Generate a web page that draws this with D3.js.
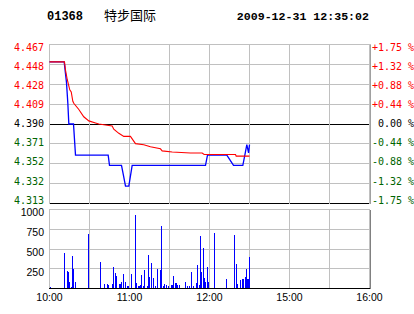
<!DOCTYPE html>
<html>
<head>
<meta charset="utf-8">
<script src="https://cdn.jsdelivr.net/npm/d3@7"></script>
<style>
  html, body { margin: 0; padding: 0; background: #fff; }
  svg { display: block; }
  text { white-space: pre; }
</style>
</head>
<body>
<div id="chart"></div>
<script>
// Header
const stockCode = "01368";
const stockName = "特步国际";
const stamp = "2009-12-31 12:35:02";

const prevClose = 4.39;
const maxPct = 0.0175;

// axis labels, bottom to top
const priceLabels = ["4.313", "4.332", "4.352", "4.371", "4.390", "4.409", "4.428", "4.448", "4.467"];
const pctLabels = ["-1.75 %", "-1.32 %", "-0.88 %", "-0.44 %", " 0.00 %", "+0.44 %", "+0.88 %", "+1.32 %", "+1.75 %"];

// trading minutes since 10:00 (12:30 joins 14:30)
const timeTicks = [0, 60, 120, 180, 240];
const timeLabels = ["10:00", "11:00", "12:00", "15:00", "16:00"];
const volTicks = [250, 500, 750, 1000];

// price line (minute, price)
const priceTimes = [0, 11, 12.75, 13.75, 14.5, 18, 19.5, 44, 45, 54, 55.5, 57, 59.5, 62, 117, 118.5, 133, 138, 145, 146.5, 148, 149.3, 150];
const priceValues = [4.45, 4.45, 4.43, 4.41, 4.39, 4.39, 4.36, 4.36, 4.35, 4.35, 4.34, 4.33, 4.33, 4.35, 4.35, 4.36, 4.36, 4.35, 4.35, 4.36, 4.37, 4.362, 4.37];

// average price line
const avgTimes = [0, 11.25, 12, 13.3, 15.2, 16.3, 17.5, 18.2, 22, 25.7, 29.5, 34.5, 37, 47, 48.2, 52, 55.7, 60.7, 64.5, 70.7, 75.7, 83.2, 84.5, 92, 105.7, 114.5, 116, 139.5, 140, 150];
const avgValues = [4.450, 4.450, 4.442, 4.433, 4.423, 4.421, 4.412, 4.410, 4.404, 4.397, 4.393, 4.391, 4.390, 4.388, 4.385, 4.381, 4.378, 4.378, 4.371, 4.370, 4.368, 4.366, 4.364, 4.363, 4.362, 4.362, 4.3605, 4.3605, 4.359, 4.359];

// volume bars
const volTimes = [0.75, 11.5, 13.75, 14.5, 15.25, 16.75, 17.5, 18.25, 19.75, 29.5, 38.5, 41.5, 43.75, 44.5, 47.5, 48.25, 49.75, 50.5, 52.75, 53.5, 54.25, 55.75, 57.25, 58.75, 59.5, 61.75, 64.75, 65.5, 67, 67.75, 68.5, 69.25, 70.75, 71.5, 73.75, 74.5, 75.25, 76.75, 78.25, 79.75, 81.25, 83.5, 84.25, 85.75, 86.5, 88, 89.5, 91.75, 92.5, 93.25, 94.75, 95.5, 96.25, 97.75, 102.25, 103.75, 105.25, 106.75, 108.25, 110.5, 111.25, 112.75, 113.5, 114.25, 115.75, 116.5, 117.25, 118.75, 119.5, 124, 133, 139, 140.5, 141.25, 143.5, 145, 145.75, 147.25, 148, 148.75, 149.5, 150];
const volValues = [25, 449, 220, 208, 80, 25, 407, 242, 80, 691, 335, 55, 55, 42, 55, 271, 195, 153, 55, 55, 80, 182, 80, 30, 30, 182, 928, 68, 30, 30, 42, 169, 30, 233, 30, 424, 144, 322, 127, 30, 246, 233, 792, 34, 55, 42, 30, 42, 42, 157, 68, 68, 42, 42, 80, 30, 30, 208, 30, 68, 297, 42, 665, 208, 513, 131, 80, 267, 80, 699, 114, 678, 309, 55, 102, 114, 114, 144, 246, 114, 119, 394];

const width = 414, height = 314;
const left = 49, right = 370;
const gridColor = "#c0c0c0";
const upColor = "#ff0000", downColor = "#006400";
const monoFont = "'DejaVu Sans Mono', monospace";
const sansFont = "'Liberation Sans', Arial, sans-serif";

const svg = d3.select("#chart").append("svg")
    .attr("width", width)
    .attr("height", height);

const x = d3.scaleLinear().domain([0, 240]).range([left + 0.5, right - 0.5]);
const y = d3.scaleLinear()
    .domain([prevClose * (1 - maxPct), prevClose * (1 + maxPct)])
    .range([203.5, 44.5]);
// label positions sit a little inside the panel
const yLabel = d3.scaleLinear().domain(y.domain()).range([200, 47.5]);
const yv = d3.scaleLinear().domain([0, 1000]).range([288.5, 209.5]);

const labelColor = i => i > 4 ? upColor : (i < 4 ? downColor : "#000");

// header
svg.append("text")
    .attr("x", 47).attr("y", 20)
    .style("font-family", "'Liberation Mono', monospace")
    .style("font-weight", "bold")
    .style("font-size", "12px")
    .text(stockCode);
svg.append("text")
    .attr("x", 104).attr("y", 20)
    .style("font-family", "'Noto Sans CJK SC', sans-serif")
    .style("font-size", "13px")
    .text(stockName);
svg.append("text")
    .attr("x", 369).attr("y", 20)
    .attr("text-anchor", "end")
    .style("font-family", "'Liberation Mono', monospace")
    .style("font-weight", "bold")
    .style("font-size", "11.6px")
    .text(stamp);

// price panel grid
const priceTicks = d3.range(-4, 5).map(k => prevClose * (1 + maxPct * k / 4));
const gPrice = svg.append("g").attr("shape-rendering", "crispEdges");

gPrice.selectAll("line.h")
    .data(priceTicks)
    .enter().append("line")
    .attr("x1", left).attr("x2", right + 1)
    .attr("y1", d => y(d)).attr("y2", d => y(d))
    .attr("stroke", (d, i) => (i === 0 || i === 4) ? "#000" : gridColor);

const vGrid = d3.range(0, 241, 30);
gPrice.selectAll("line.v")
    .data(vGrid)
    .enter().append("line")
    .attr("x1", d => x(d)).attr("x2", d => x(d))
    .attr("y1", y.range()[1]).attr("y2", y.range()[0])
    .attr("stroke", gridColor);
gPrice.append("line")
    .attr("x1", right + 0.5).attr("x2", right + 0.5)
    .attr("y1", y.range()[1]).attr("y2", y.range()[0])
    .attr("stroke", "#a0a0a0");

// left price labels
svg.append("g").selectAll("text")
    .data(priceTicks)
    .enter().append("text")
    .attr("x", 44)
    .attr("y", d => yLabel(d))
    .attr("dy", "0.36em")
    .attr("text-anchor", "end")
    .style("font-family", monoFont)
    .style("font-size", "10px")
    .attr("fill", (d, i) => labelColor(i))
    .text((d, i) => priceLabels[i]);

// right percentage labels
svg.append("g").selectAll("text")
    .data(priceTicks)
    .enter().append("text")
    .attr("x", 372)
    .attr("y", d => yLabel(d))
    .attr("dy", "0.36em")
    .style("font-family", monoFont)
    .style("font-size", "10px")
    .attr("fill", (d, i) => labelColor(i))
    .text((d, i) => pctLabels[i]);

// price line and average line
const priceData = priceTimes.map((t, i) => [t, priceValues[i]]);
const avgData = avgTimes.map((t, i) => [t, avgValues[i]]);
const line = d3.line().x(d => x(d[0])).y(d => y(d[1]));

svg.append("path")
    .datum(priceData)
    .attr("d", line)
    .attr("fill", "none")
    .attr("stroke", "#0000ff")
    .attr("stroke-width", 1.3);

svg.append("path")
    .datum(avgData)
    .attr("d", line)
    .attr("fill", "none")
    .attr("stroke", "#ff0000")
    .attr("stroke-width", 1.1);

// volume panel
const gVol = svg.append("g").attr("shape-rendering", "crispEdges");
gVol.selectAll("line.h")
    .data(volTicks)
    .enter().append("line")
    .attr("x1", left).attr("x2", right)
    .attr("y1", d => yv(d)).attr("y2", d => yv(d))
    .attr("stroke", gridColor);
gVol.selectAll("line.v")
    .data(vGrid)
    .enter().append("line")
    .attr("x1", d => x(d)).attr("x2", d => x(d))
    .attr("y1", yv(1000)).attr("y2", yv(0))
    .attr("stroke", gridColor);

gVol.selectAll("rect")
    .data(volTimes.map((t, i) => [t, volValues[i]]))
    .enter().append("rect")
    .attr("x", d => Math.floor(x(d[0])))
    .attr("y", d => yv(d[1]))
    .attr("width", 1)
    .attr("height", d => yv(0) - yv(d[1]))
    .attr("fill", "#0000ff");

gVol.append("line")
    .attr("x1", left).attr("x2", right + 1)
    .attr("y1", yv(0)).attr("y2", yv(0))
    .attr("stroke", "#000");
gVol.append("line")
    .attr("x1", right + 0.5).attr("x2", right + 0.5)
    .attr("y1", yv(1000)).attr("y2", yv(0))
    .attr("stroke", "#808080");

svg.append("g").selectAll("text")
    .data(volTicks)
    .enter().append("text")
    .attr("x", 44)
    .attr("y", d => yv(d) + 3)
    .attr("dy", "0.36em")
    .attr("text-anchor", "end")
    .style("font-family", sansFont)
    .style("font-size", "10.5px")
    .text(d => d);

// time labels
svg.append("g").selectAll("text")
    .data(timeTicks)
    .enter().append("text")
    .attr("x", d => x(d))
    .attr("y", 301)
    .attr("text-anchor", "middle")
    .style("font-family", sansFont)
    .style("font-size", "10.5px")
    .text((d, i) => timeLabels[i]);
</script>
</body>
</html>
